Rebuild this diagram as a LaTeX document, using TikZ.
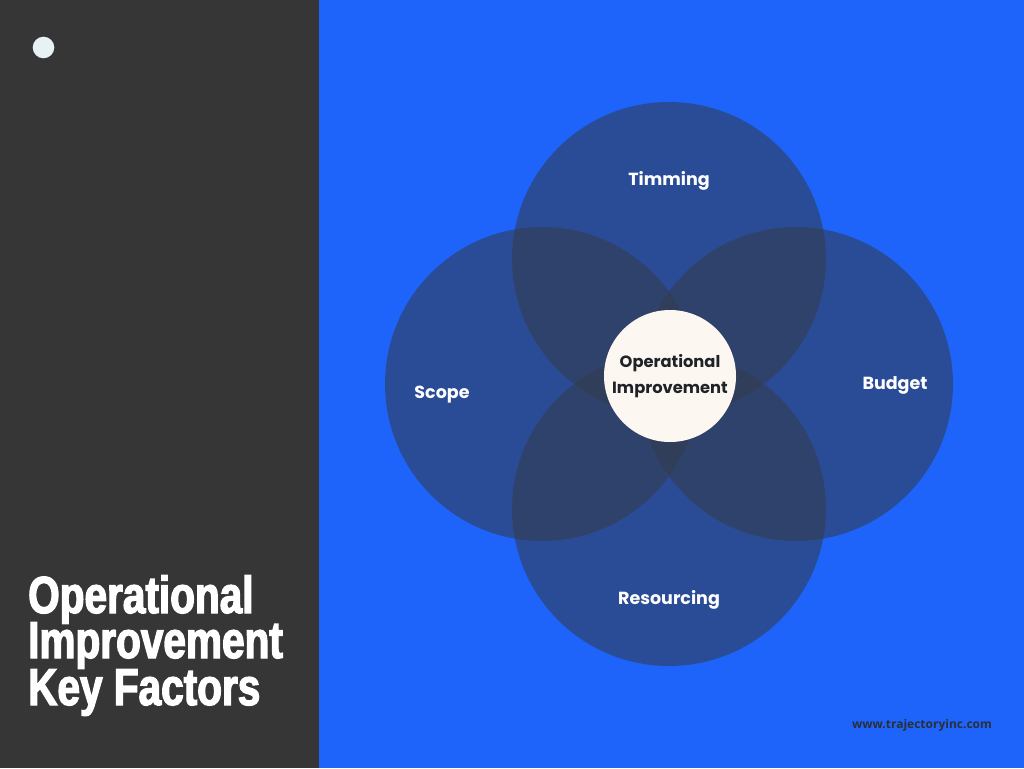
\documentclass[tikz,border=0pt]{standalone}
\usepackage{fontspec}
\setmainfont{Poppins}
\newfontfamily\titlefont[FakeStretch=0.78, BoldFeatures={FakeBold=2.5}]{Liberation Sans}
\newfontfamily\webfont{Open Sans}
\usetikzlibrary{positioning}

\begin{document}
\begin{tikzpicture}[x=1pt, y=-1pt,
    factor/.style={text=white, font=\bfseries\fontsize{17.5}{20}\selectfont},
    headline/.style={anchor=base west, inner sep=0pt, text=white, font=\titlefont\bfseries\fontsize{52}{52}\selectfont}]
    % Colours
    \definecolor{panelgray}{RGB}{54,54,54}
    \definecolor{bgblue}{RGB}{30,100,250}
    \definecolor{circlenavy}{RGB}{52,60,78}
    \definecolor{corecream}{RGB}{253,247,242}
    \definecolor{coretext}{RGB}{31,35,40}
    \definecolor{dotwhite}{RGB}{232,241,244}
    \definecolor{webgray}{RGB}{43,47,58}

    \useasboundingbox (0,0) rectangle (1024,768);

    % 1. Background panels and the small dot
    \fill[panelgray] (0,0) rectangle (319,768);
    \fill[bgblue] (319,0) rectangle (1024,768);
    \fill[dotwhite] (43.5,47.5) circle (10.8);

    % 2. Four overlapping circles (top, left, right, bottom)
    \foreach \dx/\dy in {0/-125, -127/0, 127/0, 0/125} {
        \fill[circlenavy, fill opacity=0.58] (669+\dx, 384+\dy) circle (157);
    }

    % 3. Centre circle
    \node[circle, fill=corecream, minimum size=132pt, inner sep=0pt] (core) at (670,376) {};
    \node[align=center, text=coretext, font=\bfseries\fontsize{16.3}{26}\selectfont] (coretitle) at (core) {Operational\\Improvement};

    % 4. Factor labels
    \node[factor] (timming) at (669,181) {Timming};
    \node[factor] (scope) at (442,395) {Scope};
    \node[factor] (budget) at (895,385) {Budget};
    \node[factor] (resourcing) at (669,600) {Resourcing};

    % 5. Title on the dark panel
    \node[headline] (title1) at (28,613) {Operational};
    \node[headline] (title2) at (28,658) {Improvement};
    \node[headline] (title3) at (28,705) {Key Factors};

    % 6. Web address
    \node[text=webgray, font=\webfont\bfseries\fontsize{12}{14}\selectfont] (web) at (922,725) {www.trajectoryinc.com};

\end{tikzpicture}
\end{document}
